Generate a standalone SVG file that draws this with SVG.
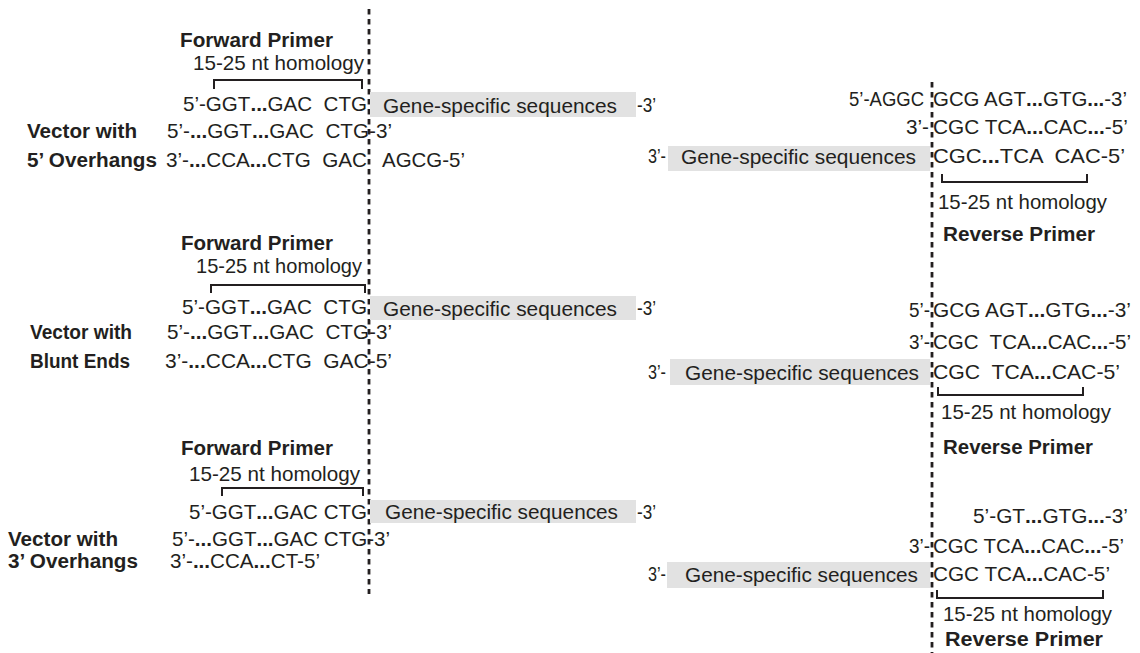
<svg xmlns="http://www.w3.org/2000/svg" width="1140" height="653" viewBox="0 0 1140 653">
<style>
text{font-family:"Liberation Sans",Arial,sans-serif;font-size:21px;fill:#231f20;white-space:pre}
.b{font-weight:bold}
.pre{font-size:19.5px}
.lbl{font-weight:bold;font-size:19.5px}
.box{fill:#e2e2e2}
.dash{stroke:#231f20;stroke-width:2.8;stroke-dasharray:5.5 4.5;fill:none}
.br{stroke:#231f20;stroke-width:2;fill:none}
</style>
<rect width="1140" height="653" fill="#fff"/>
<g id="connectors">
<line class="dash" x1="369" y1="9" x2="369" y2="594"/>
<line class="dash" x1="932" y1="82" x2="932" y2="653"/>
</g>
<g id="section1-left">
<text class="lbl" x="180" y="47" textLength="153" lengthAdjust="spacingAndGlyphs">Forward Primer</text>
<text x="193" y="70" textLength="171" lengthAdjust="spacingAndGlyphs">15-25 nt homology</text>
<path class="br" d="M214 89V80H362V89"/>
<rect class="box" x="370" y="92" width="266" height="25"/>
<text x="183" y="111" textLength="184" lengthAdjust="spacingAndGlyphs">5’-GGT<tspan class="b">...</tspan>GAC  CTG</text>
<text x="383" y="113" textLength="234" lengthAdjust="spacingAndGlyphs">Gene-specific sequences</text>
<text x="637" y="112" textLength="19" lengthAdjust="spacingAndGlyphs">-3’</text>
<text class="lbl" x="27" y="138" textLength="110" lengthAdjust="spacingAndGlyphs">Vector with</text>
<text x="167" y="138" textLength="225" lengthAdjust="spacingAndGlyphs">5’-<tspan class="b">...</tspan>GGT<tspan class="b">...</tspan>GAC  CTG-3’</text>
<text class="lbl" x="27" y="167" textLength="130" lengthAdjust="spacingAndGlyphs">5’ Overhangs</text>
<text x="166" y="167" textLength="201" lengthAdjust="spacingAndGlyphs">3’-<tspan class="b">...</tspan>CCA<tspan class="b">...</tspan>CTG  GAC</text>
<text x="382" y="167" textLength="83" lengthAdjust="spacingAndGlyphs">AGCG-5’</text>
</g>
<g id="section1-right">
<text class="pre" x="849" y="106" textLength="75" lengthAdjust="spacingAndGlyphs">5’-AGGC</text>
<text class="pre" x="933" y="106" textLength="194" lengthAdjust="spacingAndGlyphs">GCG AGT<tspan class="b">...</tspan>GTG<tspan class="b">...</tspan>-3’</text>
<text class="pre" x="906" y="134" textLength="23" lengthAdjust="spacingAndGlyphs">3’-</text>
<text class="pre" x="933" y="134" textLength="195" lengthAdjust="spacingAndGlyphs">CGC TCA<tspan class="b">...</tspan>CAC<tspan class="b">...</tspan>-5’</text>
<text x="648" y="163" textLength="18" lengthAdjust="spacingAndGlyphs">3’-</text>
<rect class="box" x="668" y="146" width="262" height="25"/>
<text x="681" y="164" textLength="235" lengthAdjust="spacingAndGlyphs">Gene-specific sequences</text>
<text x="933" y="163" textLength="192" lengthAdjust="spacingAndGlyphs">CGC<tspan class="b">...</tspan>TCA  CAC-5’</text>
<path class="br" d="M942 174V182H1087V174"/>
<text x="938" y="209" textLength="169" lengthAdjust="spacingAndGlyphs">15-25 nt homology</text>
<text class="lbl" x="943" y="241" textLength="152" lengthAdjust="spacingAndGlyphs">Reverse Primer</text>
</g>
<g id="section2-left">
<text class="lbl" x="181" y="250" textLength="152" lengthAdjust="spacingAndGlyphs">Forward Primer</text>
<text x="196" y="273" textLength="166" lengthAdjust="spacingAndGlyphs">15-25 nt homology</text>
<path class="br" d="M211 293V285H365V293"/>
<rect class="box" x="370" y="296" width="266" height="24"/>
<text x="182" y="314" textLength="185" lengthAdjust="spacingAndGlyphs">5’-GGT<tspan class="b">...</tspan>GAC  CTG</text>
<text x="383" y="316" textLength="234" lengthAdjust="spacingAndGlyphs">Gene-specific sequences</text>
<text x="637" y="315" textLength="19" lengthAdjust="spacingAndGlyphs">-3’</text>
<text class="lbl" x="30" y="339" textLength="102" lengthAdjust="spacingAndGlyphs">Vector with</text>
<text x="167" y="339" textLength="225" lengthAdjust="spacingAndGlyphs">5’-<tspan class="b">...</tspan>GGT<tspan class="b">...</tspan>GAC  CTG-3’</text>
<text class="lbl" x="30" y="368" textLength="100" lengthAdjust="spacingAndGlyphs">Blunt Ends</text>
<text x="165" y="368" textLength="227" lengthAdjust="spacingAndGlyphs">3’-<tspan class="b">...</tspan>CCA<tspan class="b">...</tspan>CTG  GAC-5’</text>
</g>
<g id="section2-right">
<text class="pre" x="909" y="317" textLength="21" lengthAdjust="spacingAndGlyphs">5’-</text>
<text class="pre" x="933" y="317" textLength="198" lengthAdjust="spacingAndGlyphs">GCG AGT<tspan class="b">...</tspan>GTG<tspan class="b">...</tspan>-3’</text>
<text class="pre" x="909" y="349" textLength="21" lengthAdjust="spacingAndGlyphs">3’-</text>
<text class="pre" x="933" y="349" textLength="198" lengthAdjust="spacingAndGlyphs">CGC  TCA<tspan class="b">...</tspan>CAC<tspan class="b">...</tspan>-5’</text>
<text x="648" y="379" textLength="18" lengthAdjust="spacingAndGlyphs">3’-</text>
<rect class="box" x="670" y="359" width="260" height="26"/>
<text x="685" y="380" textLength="234" lengthAdjust="spacingAndGlyphs">Gene-specific sequences</text>
<text x="933" y="379" textLength="187" lengthAdjust="spacingAndGlyphs">CGC  TCA<tspan class="b">...</tspan>CAC-5’</text>
<path class="br" d="M938 387V395H1083V387"/>
<text x="941" y="419" textLength="170" lengthAdjust="spacingAndGlyphs">15-25 nt homology</text>
<text class="lbl" x="943" y="454" textLength="150" lengthAdjust="spacingAndGlyphs">Reverse Primer</text>
</g>
<g id="section3-left">
<text class="lbl" x="181" y="455" textLength="152" lengthAdjust="spacingAndGlyphs">Forward Primer</text>
<text x="189" y="481" textLength="171" lengthAdjust="spacingAndGlyphs">15-25 nt homology</text>
<path class="br" d="M222 496V488H363V496"/>
<rect class="box" x="370" y="500" width="266" height="23"/>
<text x="189" y="519" textLength="178" lengthAdjust="spacingAndGlyphs">5’-GGT<tspan class="b">...</tspan>GAC CTG</text>
<text x="385" y="519" textLength="233" lengthAdjust="spacingAndGlyphs">Gene-specific sequences</text>
<text x="637" y="519" textLength="19" lengthAdjust="spacingAndGlyphs">-3’</text>
<text class="lbl" x="8" y="546" textLength="110" lengthAdjust="spacingAndGlyphs">Vector with</text>
<text x="172" y="546" textLength="218" lengthAdjust="spacingAndGlyphs">5’-<tspan class="b">...</tspan>GGT<tspan class="b">...</tspan>GAC CTG-3’</text>
<text class="lbl" x="8" y="568" textLength="130" lengthAdjust="spacingAndGlyphs">3’ Overhangs</text>
<text x="170" y="568" textLength="150" lengthAdjust="spacingAndGlyphs">3’-<tspan class="b">...</tspan>CCA<tspan class="b">...</tspan>CT-5’</text>
</g>
<g id="section3-right">
<text class="pre" x="973" y="523" textLength="155" lengthAdjust="spacingAndGlyphs">5’-GT<tspan class="b">...</tspan>GTG<tspan class="b">...</tspan>-3’</text>
<text class="pre" x="909" y="553" textLength="21" lengthAdjust="spacingAndGlyphs">3’-</text>
<text class="pre" x="933" y="553" textLength="191" lengthAdjust="spacingAndGlyphs">CGC TCA<tspan class="b">...</tspan>CAC<tspan class="b">...</tspan>-5’</text>
<text x="648" y="581" textLength="18" lengthAdjust="spacingAndGlyphs">3’-</text>
<rect class="box" x="667" y="562" width="263" height="26"/>
<text x="685" y="582" textLength="233" lengthAdjust="spacingAndGlyphs">Gene-specific sequences</text>
<text x="933" y="581" textLength="177" lengthAdjust="spacingAndGlyphs">CGC TCA<tspan class="b">...</tspan>CAC-5’</text>
<path class="br" d="M937 590V598H1103V590"/>
<text x="943" y="621" textLength="169" lengthAdjust="spacingAndGlyphs">15-25 nt homology</text>
<text class="lbl" x="945" y="646" textLength="158" lengthAdjust="spacingAndGlyphs">Reverse Primer</text>
</g>
</svg>
